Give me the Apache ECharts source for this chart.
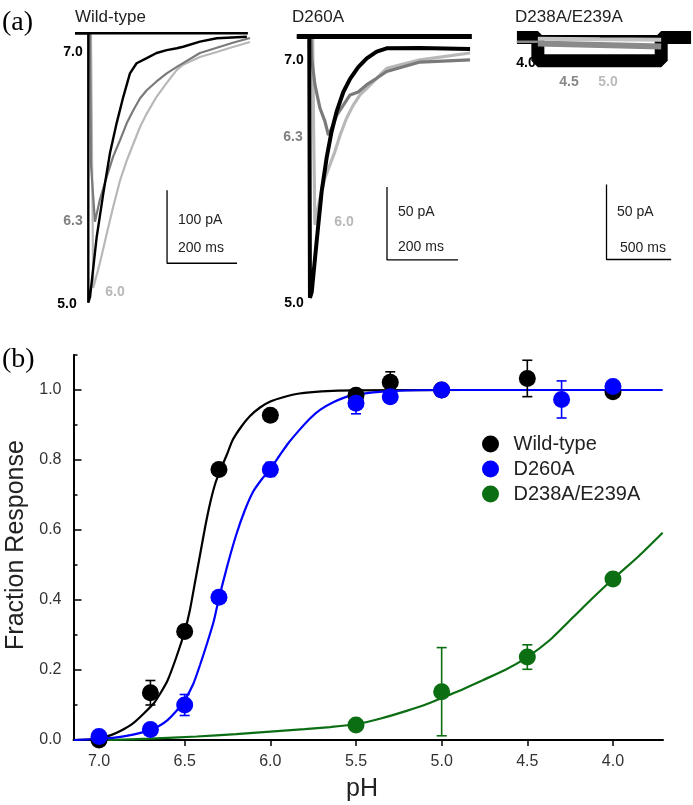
<!DOCTYPE html>
<html><head><meta charset="utf-8">
<script src="https://cdn.jsdelivr.net/npm/echarts@6/dist/echarts.min.js"></script>
<style>html,body{margin:0;padding:0;background:#fff}#c{width:693px;height:805px}</style>
</head><body><div id="c"></div>
<script>
// ---------- Panel (a): current traces, [time ms, current pA] ----------
const wt70 = [[12,0],[506,0]];
const wt50 = [[12,0],[50,0],[50,-369],[55,-361],[74,-279],[93,-219],[112,-164],[131,-123],[150,-87],[169,-55],[188,-41],[217,-34],[245,-27],[274,-23],[303,-20.5],[321,-18.4],[369,-11.5],[417,-6.8],[503,-4.7]];
const wt63 = [[55,0],[57.7,-180],[69,-258],[83,-228],[103,-196],[121,-169],[141,-146],[160,-123],[179,-105],[198,-89],[217,-78],[245,-66],[274,-55],[303,-46],[369,-27],[463,-13],[512,-6.4]];
const wt60 = [[57.7,0],[64,-349],[83,-315],[103,-274],[121,-238],[141,-201],[160,-174],[179,-151],[198,-128],[217,-110],[245,-87],[274,-68],[303,-50],[321,-43],[369,-32.5],[417,-25.6],[463,-18.8],[512,-11.9]];

const d70 = [[15,0],[508,0]];
const d50 = [[15,0],[50,0],[52,-179],[57,-175],[71,-140],[85,-106],[99,-83],[113,-65],[127,-51.5],[146,-38],[165,-29],[188,-21],[212,-15],[240,-10.4],[268,-8.1],[362,-7.9],[503,-8.6]];
const d63 = [[55,0],[57,-15],[66,-33],[80,-49],[94,-58],[104,-67.5],[113,-63],[127,-54],[146,-47],[165,-40],[188,-38],[212,-33],[240,-28.6],[268,-24],[362,-17.5],[503,-16]];
const d60 = [[59.7,0],[62,-60],[66,-129],[80,-111],[94,-97],[108,-88],[122,-79],[137,-67.5],[155,-56],[174,-47],[193,-40],[212,-35.5],[240,-28.6],[268,-21.8],[362,-16],[503,-11.3]];

const e40 = [[38,0],[200,0],[200,-15.5],[1154,-15.5],[1154,0],[1385,0]];
const e70 = [[200,0],[1154,0]];
const e45pre = [[38,-2.8],[200,-2.8]];
const e45 = [[200,-4],[680,-5],[1154,-6]];
const e50 = [[200,-0.8],[680,-1.2],[1154,-1.5]];

const scaleBarPA = [100, 50, 50];
const scaleBarMS = [200, 200, 500];

// ---------- Panel (b): pH response ----------
const phTicks = [7.0, 6.5, 6.0, 5.5, 5.0, 4.5, 4.0];
const yTicks = [0, 0.2, 0.4, 0.6, 0.8, 1.0];
const yMinorTicks = [0.1, 0.3, 0.5, 0.7, 0.9, 1.1];

const wtPH   = [7.0, 6.7, 6.5, 6.3, 6.0, 5.5, 5.3, 5.0, 4.5, 4.0];
const wtMean = [0.0, 0.135, 0.31, 0.773, 0.928, 0.985, 1.022, 1.0, 1.033, 0.995];
const wtErr  = [0.005, 0.035, 0.015, 0.012, 0.012, 0.01, 0.03, 0.01, 0.052, 0.01];

const d260PH   = [7.0, 6.7, 6.5, 6.3, 6.0, 5.5, 5.3, 5.0, 4.3, 4.0];
const d260Mean = [0.01, 0.03, 0.10, 0.408, 0.773, 0.962, 0.981, 1.0, 0.973, 1.01];
const d260Err  = [0.008, 0.01, 0.03, 0.012, 0.02, 0.03, 0.012, 0.01, 0.053, 0.01];

const dmPH   = [5.5, 5.0, 4.5, 4.0];
const dmMean = [0.043, 0.138, 0.237, 0.46];
const dmErr  = [0.005, 0.126, 0.035, 0.01];

const wtFit = [[7.146,0],[7.05,0.002],[7.0,0.005],[6.93,0.014],[6.87,0.027],[6.8,0.048],[6.74,0.075],[6.68,0.105],[6.64,0.135],[6.6,0.17],[6.55,0.235],[6.5,0.31],[6.47,0.37],[6.44,0.45],[6.41,0.53],[6.38,0.61],[6.35,0.68],[6.32,0.735],[6.29,0.773],[6.25,0.82],[6.22,0.857],[6.17,0.895],[6.12,0.925],[6.06,0.95],[6.0,0.967],[5.92,0.98],[5.83,0.99],[5.7,0.996],[5.5,0.999],[4.85,1.0]];
const d260Fit = [[7.146,0],[7.0,0.003],[6.92,0.006],[6.84,0.012],[6.77,0.019],[6.7,0.029],[6.65,0.04],[6.6,0.057],[6.55,0.082],[6.5,0.114],[6.45,0.16],[6.41,0.215],[6.37,0.275],[6.33,0.34],[6.3,0.405],[6.25,0.5],[6.2,0.585],[6.15,0.655],[6.1,0.71],[6.05,0.745],[6.0,0.775],[5.95,0.81],[5.9,0.845],[5.83,0.886],[5.77,0.918],[5.71,0.943],[5.63,0.966],[5.53,0.984],[5.4,0.993],[5.3,0.997],[5.0,1.0],[3.71,1.0]];
const dmFit = [[6.95,0],[6.7,0.004],[6.43,0.01],[6.2,0.017],[6.0,0.024],[5.8,0.031],[5.65,0.037],[5.5,0.045],[5.35,0.062],[5.2,0.084],[5.1,0.1],[5.0,0.12],[4.9,0.14],[4.76,0.171],[4.63,0.2],[4.5,0.237],[4.37,0.285],[4.23,0.352],[4.12,0.405],[4.0,0.46],[3.85,0.525],[3.71,0.592]];

const BLACK = '#000000', BLUE = '#0000ff', GREEN = '#0b6e12';
const GRAY = '#7a7a7a', LGRAY = '#b8b8b8';
const SANS = '"Liberation Sans", Arial, sans-serif';

const chart = echarts.init(document.getElementById('c'), null, {renderer: 'canvas'});

function hiddenAxis(grid, min, max) {
  return {type: 'value', gridIndex: grid, min: min, max: max, show: false};
}
function trace(name, data, grid, color, width) {
  return {type: 'line', name: name, xAxisIndex: grid, yAxisIndex: grid, data: data,
    showSymbol: false, symbol: 'none', lineStyle: {color: color, width: width}, silent: true, z: 2};
}
function scaleBar(grid, cornerMs, cornerPA, i) {
  return {type: 'line', xAxisIndex: grid, yAxisIndex: grid, showSymbol: false, symbol: 'none', silent: true,
    data: [[cornerMs, cornerPA + scaleBarPA[i]], [cornerMs, cornerPA], [cornerMs + scaleBarMS[i], cornerPA]],
    lineStyle: {color: '#000', width: 1.3}};
}
function errSeries(ph, mean, err, color) {
  return {type: 'custom', xAxisIndex: 3, yAxisIndex: 3, silent: true, z: 3,
    data: ph.map((p, i) => [p, mean[i], err[i]]),
    renderItem: function (params, api) {
      const x = api.value(0), m = api.value(1), e = api.value(2);
      const t = api.coord([x, m + e]), b = api.coord([x, m - e]);
      const w = 5, st = {stroke: color, lineWidth: 1.6};
      return {type: 'group', children: [
        {type: 'line', shape: {x1: t[0], y1: t[1], x2: b[0], y2: b[1]}, style: st},
        {type: 'line', shape: {x1: t[0] - w, y1: t[1], x2: t[0] + w, y2: t[1]}, style: st},
        {type: 'line', shape: {x1: b[0] - w, y1: b[1], x2: b[0] + w, y2: b[1]}, style: st}
      ]};
    }};
}
function fitSeries(data, color) {
  return {type: 'line', xAxisIndex: 3, yAxisIndex: 3, data: data, showSymbol: false, symbol: 'none',
    smooth: 0.2, silent: true, lineStyle: {color: color, width: 2.2}, z: 2};
}
function scatter(name, ph, mean, color) {
  return {type: 'scatter', name: name, xAxisIndex: 3, yAxisIndex: 3, symbol: 'circle', symbolSize: 17,
    data: ph.map((p, i) => [p, mean[i]]), itemStyle: {color: color, opacity: 1}, z: 4};
}
function txt(s, x, y, size, color, opt) {
  opt = opt || {};
  return {type: 'text', x: x, y: y, rotation: opt.rot || 0, silent: true,
    style: {text: s, fill: color, fontSize: size, fontWeight: opt.bold ? 'bold' : 'normal',
      fontFamily: opt.font || SANS, align: opt.align || 'left', verticalAlign: 'middle'}};
}

const option = {
  animation: false,
  backgroundColor: '#fff',
  grid: [
    {left: 70.8, top: 18.7, width: 196, height: 292},
    {left: 291.5, top: 21.9, width: 184.6, height: 292},
    {left: 512, top: 22.5, width: 182, height: 285},
    {left: 73.5, top: 355, width: 589.5, height: 385}
  ],
  xAxis: [
    hiddenAxis(0, 0, 560), hiddenAxis(1, 0, 520), hiddenAxis(2, 0, 1400),
    {type: 'value', gridIndex: 3, min: 3.708, max: 7.149, inverse: true,
      axisLine: {show: true, onZero: false, lineStyle: {color: '#000', width: 2}},
      axisTick: {show: true, customValues: phTicks, length: 6, inside: false, lineStyle: {color: '#000', width: 1.5}},
      axisLabel: {show: true, customValues: phTicks, formatter: v => v.toFixed(1), fontSize: 16, color: '#333', fontFamily: SANS, margin: 14},
      splitLine: {show: false}}
  ],
  yAxis: [
    hiddenAxis(0, -380, 20), hiddenAxis(1, -190, 10), hiddenAxis(2, -180, 10),
    {type: 'value', gridIndex: 3, min: 0, max: 1.1, position: 'left',
      axisLine: {show: true, onZero: false, lineStyle: {color: '#000', width: 2}},
      axisTick: {show: true, customValues: yTicks, length: 8, inside: true, lineStyle: {color: '#000', width: 1.5}},
      axisLabel: {show: true, customValues: yTicks, formatter: v => v.toFixed(1), fontSize: 16, color: '#333', fontFamily: SANS, margin: 12},
      splitLine: {show: false}},
    {type: 'value', gridIndex: 3, min: 0, max: 1.1, position: 'left', offset: 0,
      axisLine: {show: false},
      axisTick: {show: true, customValues: yMinorTicks, length: 4, inside: true, lineStyle: {color: '#000', width: 1.5}},
      axisLabel: {show: false}, splitLine: {show: false}}
  ],
  legend: {
    data: ['Wild-type', 'D260A', 'D238A/E239A'],
    orient: 'vertical', left: 477, top: 429, itemWidth: 36, itemHeight: 17, itemGap: 5,
    icon: 'circle', selectedMode: false,
    textStyle: {fontSize: 20, color: '#222', fontFamily: SANS}
  },
  series: [
    // WT traces
    trace('wt60', wt60, 0, LGRAY, 2.2),
    trace('wt63', wt63, 0, GRAY, 2.2),
    trace('wt50', wt50, 0, BLACK, 2.4),
    trace('wt70', wt70, 0, BLACK, 2.6),
    scaleBar(0, 275, -315, 0),
    // D260A traces
    trace('d60', d60, 1, LGRAY, 3.2),
    trace('d63', d63, 1, GRAY, 3.2),
    trace('d50', d50, 1, BLACK, 4),
    trace('d70', d70, 1, BLACK, 5),
    scaleBar(1, 269, -153, 1),
    // D238A/E239A traces
    trace('e40', e40, 2, BLACK, 13),
    trace('e70', e70, 2, BLACK, 5),
    trace('e45pre', e45pre, 2, '#8a8a8a', 2.5),
    trace('e45', e45, 2, '#8a8a8a', 6),
    trace('e50', e50, 2, '#c4c4c4', 4),
    scaleBar(2, 731, -148, 2),
    // Panel (b)
    fitSeries(dmFit, GREEN),
    fitSeries(wtFit, BLACK),
    fitSeries(d260Fit, BLUE),
    errSeries(wtPH, wtMean, wtErr, BLACK),
    errSeries(d260PH, d260Mean, d260Err, BLUE),
    errSeries(dmPH, dmMean, dmErr, GREEN),
    scatter('Wild-type', wtPH, wtMean, BLACK),
    scatter('D260A', d260PH, d260Mean, BLUE),
    scatter('D238A/E239A', dmPH, dmMean, GREEN)
  ],
  graphic: [
    txt('(a)', 2, 23, 28, '#000', {font: '"Liberation Serif", "Times New Roman", serif'}),
    txt('(b)', 2, 360, 28, '#000', {font: '"Liberation Serif", "Times New Roman", serif'}),
    txt('Wild-type', 75, 17, 17, '#222'),
    txt('D260A', 292, 17, 17, '#222'),
    txt('D238A/E239A', 515, 17, 17, '#222'),
    txt('7.0', 73, 52, 14, '#000', {bold: true, align: 'center'}),
    txt('6.3', 73, 221, 14, '#808080', {bold: true, align: 'center'}),
    txt('5.0', 67, 304, 14, '#000', {bold: true, align: 'center'}),
    txt('6.0', 115, 292, 14, '#b8b8b8', {bold: true, align: 'center'}),
    txt('7.0', 294, 60, 14, '#000', {bold: true, align: 'center'}),
    txt('6.3', 293, 137, 14, '#808080', {bold: true, align: 'center'}),
    txt('5.0', 294, 303, 14, '#000', {bold: true, align: 'center'}),
    txt('6.0', 344, 222, 14, '#b8b8b8', {bold: true, align: 'center'}),
    txt('4.0', 526, 63, 14, '#000', {bold: true, align: 'center'}),
    txt('4.5', 569, 82, 14, '#888', {bold: true, align: 'center'}),
    txt('5.0', 608, 82, 14, '#bbb', {bold: true, align: 'center'}),
    txt(scaleBarPA[0] + ' pA', 178, 220, 14, '#222'),
    txt(scaleBarMS[0] + ' ms', 178, 248, 14, '#222'),
    txt(scaleBarPA[1] + ' pA', 398, 212, 14, '#222'),
    txt(scaleBarMS[1] + ' ms', 398, 247, 14, '#222'),
    txt(scaleBarPA[2] + ' pA', 617, 212, 14, '#222'),
    txt(scaleBarMS[2] + ' ms', 620, 248, 14, '#222'),
    txt('Fraction Response', 16, 545, 25, '#222', {align: 'center', rot: Math.PI / 2}),
    txt('pH', 362, 789, 25, '#222', {align: 'center'})
  ]
};
chart.setOption(option);
</script>
</body></html>
